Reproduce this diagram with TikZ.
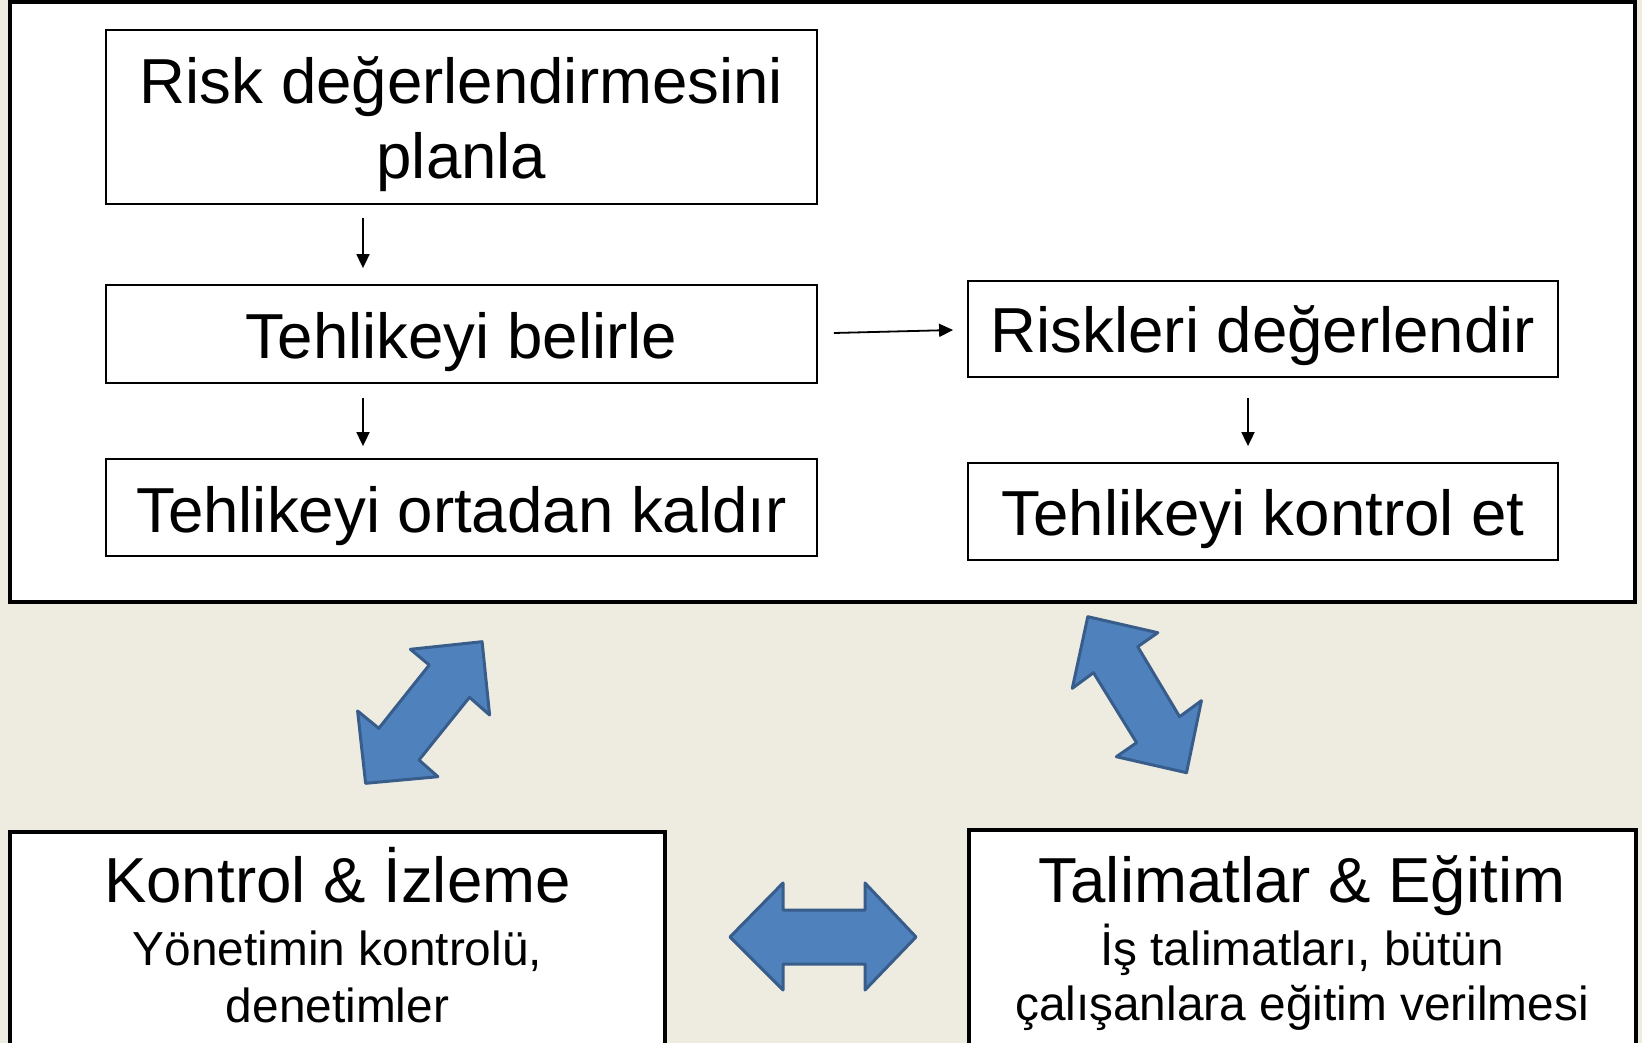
\documentclass[tikz,border=0pt]{standalone}
\usepackage{fontspec}
\setmainfont{Liberation Sans}
\usetikzlibrary{arrows.meta}
\definecolor{bg}{HTML}{EEECE1}
\definecolor{bfill}{HTML}{4F81BD}
\definecolor{bline}{HTML}{385D8A}
\begin{document}
\begin{tikzpicture}[x=1pt,y=-1pt,
 box/.style={draw=black,fill=white,line width=1.8pt,inner sep=0pt,rectangle},
 bigbox/.style={draw=black,fill=white,line width=3.8pt,inner sep=0pt,rectangle},
 big/.style={font=\fontsize{63.6}{75}\selectfont,inner sep=0pt,anchor=base},
 small/.style={font=\fontsize{47.8}{57}\selectfont,inner sep=0pt,anchor=base},
 arr/.style={-{Triangle[length=14pt,width=13pt]},line width=1.8pt},
 blk/.style={fill=bfill,draw=bline,line width=3pt,line join=round}]
\clip (0,0) rectangle (1642,1043);
\fill[bg] (0,0) rectangle (1642,1043);
% outer frame
\node[bigbox,line width=4.5pt,minimum width=1625pt,minimum height=600pt] (frame) at (822.5,302) {};
% flow boxes
\node[box,minimum width=711pt,minimum height=174pt] (b1) at (461.5,117) {};
\node[box,minimum width=711pt,minimum height=98pt] (b2) at (461.5,334) {};
\node[box,minimum width=711pt,minimum height=97pt] (b3) at (461.5,507.5) {};
\node[box,minimum width=590pt,minimum height=96pt] (b4) at (1263,329) {};
\node[box,minimum width=590pt,minimum height=97pt] (b5) at (1263,511.5) {};
\node[big] (t1a) at (461.5,104) {Risk değerlendirmesini};
\node[big] (t1b) at (461.5,179) {planla};
\node[big] (t2) at (461.5,358) {Tehlikeyi belirle};
\node[big] (t3) at (461.5,532) {Tehlikeyi ortadan kaldır};
\node[big] (t4) at (1263,352) {Riskleri değerlendir};
\node[big] (t5) at (1263,535) {Tehlikeyi kontrol et};
% small arrows
\coordinate (ax) at (363,0);
\coordinate (bx) at (1248,0);
\draw[arr,shorten <=13pt,shorten >=16pt] (b1.south -| ax) -- (b2.north -| ax);
\draw[arr,shorten <=14pt,shorten >=12pt] (b2.south -| ax) -- (b3.north -| ax);
\draw[arr,shorten <=20pt,shorten >=16pt] (b4.south -| bx) -- (b5.north -| bx);
\draw[arr] ([xshift=16pt,yshift=1pt]b2.east) -- ([xshift=-14pt,yshift=-1pt]b4.west);
% bottom boxes
\node[bigbox,line width=3.5pt,minimum width=655pt,minimum height=228pt] (kb) at (337.5,946) {};
\node[bigbox,line width=3.5pt,minimum width=667pt,minimum height=230pt] (tb) at (1302.5,945) {};
\node[big] (k1) at (337.5,902) {Kontrol \& İzleme};
\node[small] (k2) at (337.5,965) {Yönetimin kontrolü,};
\node[small] (k3) at (337.5,1022) {denetimler};
\node[big] (e1) at (1302,902) {Talimatlar \& Eğitim};
\node[small] (e2) at (1302,965) {İş talimatları, bütün};
\node[small] (e3) at (1302,1020) {çalışanlara eğitim verilmesi};
% block double arrows
\draw[blk] (410.4,649.3) -- (482.1,641.7) -- (489.6,715) -- (469.5,697.3) -- (419,760)
  -- (437.9,776.7) -- (365.6,783.3) -- (357.6,711) -- (378.8,728.3) -- (429.3,665) -- cycle;
\draw[blk] (1087.8,616.7) -- (1157.8,632.7) -- (1137.7,646.7) -- (1179.6,716.7) -- (1201.4,700.7)
  -- (1186.5,772.7) -- (1116.4,756.7) -- (1136.6,742.7) -- (1093.5,672.7) -- (1072.3,688.3) -- cycle;
\draw[blk] (730,937) -- (783,883) -- (783,910) -- (865,910) -- (865,883) -- (916,937)
  -- (865,990) -- (865,964) -- (783,964) -- (783,990) -- cycle;
\end{tikzpicture}
\end{document}
